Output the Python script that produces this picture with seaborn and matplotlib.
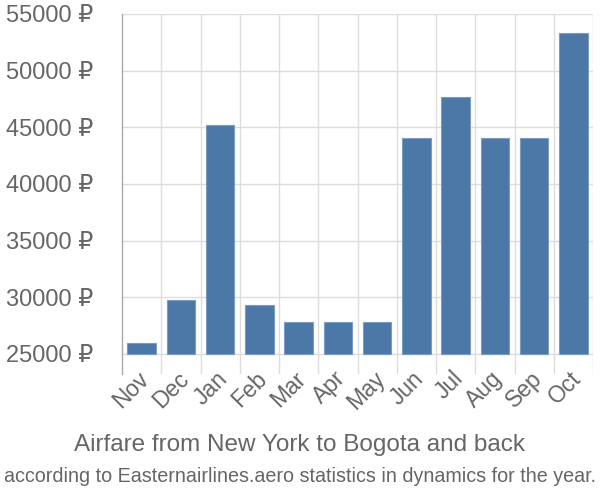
import matplotlib
matplotlib.use("Agg")
import matplotlib.pyplot as plt
import matplotlib.transforms as mtransforms
import seaborn as sns
import pandas as pd
from matplotlib.ticker import FixedLocator, FuncFormatter

months = ["Nov", "Dec", "Jan", "Feb", "Mar", "Apr", "May", "Jun", "Jul", "Aug", "Sep", "Oct"]
prices = [26000, 29800, 45200, 29300, 27800, 27800, 27800, 44100, 47700, 44100, 44100, 53300]
base = 25000
yticks = [25000, 30000, 35000, 40000, 45000, 50000, 55000]
title_line1 = "Airfare from New York to Bogota and back"
title_line2 = "according to Easternairlines.aero statistics in dynamics for the year."

sns.set_style("white")
plt.rcParams["font.family"] = ["Liberation Sans", "DejaVu Sans"]

df = pd.DataFrame({"month": months, "height": [p - base for p in prices]})

fig = plt.figure(figsize=(6, 5), dpi=100)
ax = fig.add_axes([122 / 600, 1 - 374 / 500, (593 - 122) / 600, (374 - 14) / 500])

sns.barplot(data=df, x="month", y="height", ax=ax, color="#4c78a8", saturation=1,
            width=0.72, bottom=base, edgecolor="#7a9cc4", linewidth=0.8, zorder=3)

ax.set_xlim(-0.5, len(months) - 0.5)
ax.set_ylim(base - 20 * 88.5, 55000)
ax.set_xlabel("")
ax.set_ylabel("")

ax.yaxis.set_major_locator(FixedLocator(yticks))
ax.yaxis.set_major_formatter(FuncFormatter(lambda v, p: f"{int(v)} ₽"))
ax.grid(axis="y", color="#dddddd", linewidth=1, zorder=0)

bounds = [i - 0.5 for i in range(len(months) + 1)]
for b in bounds[1:]:
    ax.axvline(b, color="#dddddd", linewidth=1, zorder=0)

for s in ["top", "right", "bottom"]:
    ax.spines[s].set_visible(False)
ax.spines["left"].set_color("#aaaaaa")
ax.spines["left"].set_linewidth(1)

ax.tick_params(axis="y", length=19, color="#dddddd", labelsize=17, labelcolor="#666666", pad=2)
ax.set_xticks(range(len(months)))
ax.set_xticklabels(months, rotation=45, ha="right", rotation_mode="anchor")
ax.tick_params(axis="x", length=0, labelsize=16.5, labelcolor="#666666", pad=0)
offset = mtransforms.ScaledTranslation(-4 / 100, 7 / 100, fig.dpi_scale_trans)
for lab in ax.get_xticklabels():
    lab.set_transform(lab.get_transform() + offset)

fig.text(0.5, 1 - 445 / 500, title_line1, ha="center", va="center", fontsize=17.5, color="#666666")
fig.text(0.5, 1 - 476 / 500, title_line2, ha="center", va="center", fontsize=14.2, color="#666666")

fig.savefig("out.png", dpi=100)
